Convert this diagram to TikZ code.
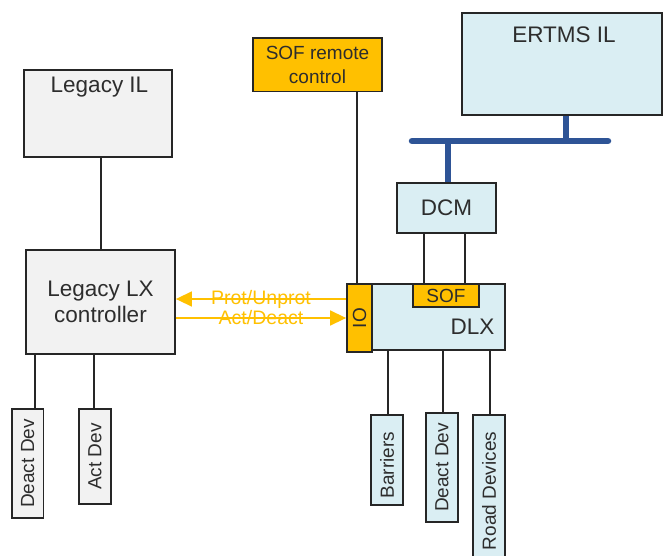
\documentclass[tikz,border=0pt]{standalone}
\usepackage{fontspec}
\setmainfont{Liberation Sans}
\usetikzlibrary{arrows.meta}
\definecolor{lxcolor0001}{RGB}{242,242,242}
\definecolor{lxcolor0002}{RGB}{218,238,243}
\definecolor{lxcolor0003}{RGB}{255,192,0}
\definecolor{lxcolor0004}{RGB}{46,84,150}
\definecolor{lxcolor0005}{RGB}{45,45,45}

\begin{document}
\begin{tikzpicture}[yscale=-1
,lxstyle0/.style={draw=black!85,fill=lxcolor0001,line width=1.8pt,inner sep=0pt}
,lxstyle1/.style={draw=black!85,fill=lxcolor0002,line width=1.8pt,inner sep=0pt}
,lxstyle2/.style={draw=black!85,fill=lxcolor0003,line width=1.8pt,inner sep=0pt}
,lxstyle3/.style={draw=black!85,line width=1.6pt}
,lxstyle4/.style={draw=lxcolor0004,line width=6.5pt}
,lxstyle5/.style={draw=lxcolor0003,line width=1.5pt,-{Triangle[length=16pt,width=15pt]}}
,lxtext0/.style={text=lxcolor0005,font=\fontsize{22.5}{26.5}\selectfont,inner sep=0pt,align=center}
,lxtext1/.style={text=lxcolor0005,font=\fontsize{19}{24}\selectfont,inner sep=0pt,align=center}
,lxtext2/.style={text=lxcolor0003,font=\fontsize{19.5}{20}\selectfont,inner sep=0pt}
]
\useasboundingbox (0pt,0pt) rectangle (663pt,556pt);
% interlockings and controllers
\node[lxstyle0,minimum width=148pt,minimum height=87pt] (legil) at (98pt,113.5pt) {};
\node[lxtext0,anchor=base] (legiltxt) at (99.5pt,93pt) {Legacy IL};
\node[lxstyle0,lxtext0,minimum width=149pt,minimum height=104pt] (leglx) at (100.5pt,302pt) {Legacy LX\\controller};
\node[lxstyle1,minimum width=200pt,minimum height=102pt] (ertms) at (562pt,64pt) {};
\node[lxtext0,anchor=base] (ertmstxt) at (564pt,43pt) {ERTMS IL};
\node[lxstyle2,lxtext1,minimum width=129pt,minimum height=53.5pt] (sofrc) at (317.5pt,64.75pt) {SOF remote\\control};
\node[lxstyle1,lxtext0,minimum width=99pt,minimum height=50.5pt] (dcm) at (446.5pt,208pt) {DCM};
\node[lxstyle1,minimum width=133pt,minimum height=66pt] (dlx) at (438.5pt,317pt) {};
\node[lxtext0,anchor=base] (dlxtxt) at (472.5pt,334pt) {DLX};
\node[lxstyle2,lxtext1,minimum width=66pt,minimum height=23pt] (sof) at (446pt,295.5pt) {SOF};
\node[lxstyle2,minimum width=25pt,minimum height=68pt] (io) at (359.5pt,318pt) {};
\node[lxtext1,rotate=90] (iotxt) at (io) {IO};
% field devices
\node[lxstyle0,minimum width=31.5pt,minimum height=109pt] (ldeact) at (27.75pt,463.5pt) {};
\node[lxtext1,rotate=90] (ldeacttxt) at (ldeact) {Deact Dev};
\node[lxstyle0,minimum width=32pt,minimum height=95pt] (lact) at (95pt,456.5pt) {};
\node[lxtext1,rotate=90] (lacttxt) at (lact) {Act Dev};
\node[lxstyle1,minimum width=32pt,minimum height=90pt] (barr) at (387pt,460pt) {};
\node[lxtext1,rotate=90] (barrtxt) at (387pt,465pt) {Barriers};
\node[lxstyle1,minimum width=32pt,minimum height=109pt] (rdeact) at (442pt,467.5pt) {};
\node[lxtext1,rotate=90] (rdeacttxt) at (rdeact) {Deact Dev};
\node[lxstyle1,minimum width=32pt,minimum height=145pt] (road) at (489pt,487.5pt) {};
\node[lxtext1,rotate=90] (roadtxt) at (489pt,491pt) {Road Devices};
% bus
\coordinate (busl) at (412pt,141pt);
\coordinate (busr) at (608pt,141pt);
\draw[lxstyle4,line cap=round] (busl) -- (busr);
\draw[lxstyle4] ([xshift=4pt]ertms.south) -- ([xshift=4pt]ertms.south |- busl);
\draw[lxstyle4] ([xshift=1.5pt]dcm.north) -- ([xshift=1.5pt]dcm.north |- busl);
% links
\draw[lxstyle3] ([xshift=0.5pt]leglx.north |- legil.south) -- ([xshift=0.5pt]leglx.north);
\draw[lxstyle3] ([xshift=-2.5pt]io.north |- sofrc.south) -- ([xshift=-2.5pt]io.north);
\draw[lxstyle3] ([xshift=-22.5pt]dcm.south) -- ([xshift=-22.5pt]dcm.south |- sof.north);
\draw[lxstyle3] ([xshift=18.5pt]dcm.south) -- ([xshift=18.5pt]dcm.south |- sof.north);
\draw[lxstyle3] ([xshift=7.25pt]ldeact.north) -- ([xshift=7.25pt]ldeact.north |- leglx.south);
\draw[lxstyle3] ([xshift=-1pt]lact.north) -- ([xshift=-1pt]lact.north |- leglx.south);
\draw[lxstyle3] ([xshift=1pt]barr.north) -- ([xshift=1pt]barr.north |- dlx.south);
\draw[lxstyle3] ([xshift=1pt]rdeact.north) -- ([xshift=1pt]rdeact.north |- dlx.south);
\draw[lxstyle3] ([xshift=1pt]road.north) -- ([xshift=1pt]road.north |- dlx.south);
% signals
\coordinate (protio) at (io.west |- 0pt,299pt);
\draw[lxstyle5] (protio) -- (protio -| leglx.east) node[lxtext2,midway] (protlbl) {Prot/Unprot};
\draw[lxstyle5] (leglx.east |- io.west) -- (io.west) node[lxtext2,midway] (actlbl) {Act/Deact};
\end{tikzpicture}
\end{document}
